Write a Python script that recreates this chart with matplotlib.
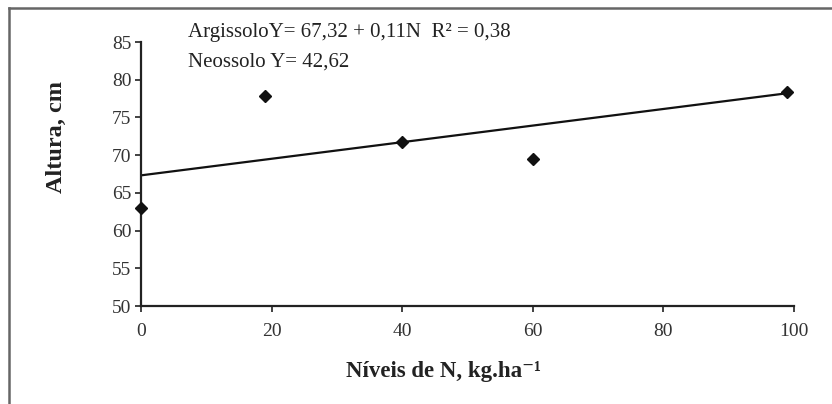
import matplotlib
matplotlib.use('Agg')
import matplotlib.pyplot as plt
from matplotlib.lines import Line2D

# niveis de N (kg/ha) e altura (cm)
doses = [0, 19, 40, 60, 99]
altura = [63.0, 77.8, 71.7, 69.5, 78.4]

# reta ajustada Argissolo
a, b = 67.32, 0.11
reta_x = [0, 99]
reta_y = [a + b * x for x in reta_x]

xticks = [0, 20, 40, 60, 80, 100]
yticks = [50, 55, 60, 65, 70, 75, 80, 85]

plt.rcParams['font.family'] = ['Liberation Serif', 'DejaVu Serif']

fig = plt.figure(figsize=(8.32, 4.04), dpi=100)
ax = fig.add_axes([141 / 832, 1 - 306 / 404, (794 - 141) / 832, (306 - 42) / 404])

ax.plot(reta_x, reta_y, color='#111111', lw=1.6, zorder=2)
ax.plot(doses, altura, 'D', color='#111111', ms=6, zorder=3, clip_on=False)

ax.set_xlim(0, 100)
ax.set_ylim(50, 85)
ax.set_xticks(xticks)
ax.set_yticks(yticks)
ax.tick_params(labelsize=14, colors='#333333', length=4, width=1.3)
ax.tick_params(axis='x', pad=8)
ax.tick_params(axis='y', pad=3)
for s in ['top', 'right']:
    ax.spines[s].set_visible(False)
for s in ['left', 'bottom']:
    ax.spines[s].set_linewidth(1.6)
    ax.spines[s].set_color('#222222')

# rotulos dos eixos
fig.text(443 / 832, 1 - 377 / 404, 'Níveis de N, kg.ha⁻¹', fontsize=16.5, fontweight='bold',
         ha='center', va='baseline', color='#222222')
fig.text(56 / 832, 1 - 137 / 404, 'Altura, cm', fontsize=17.5, fontweight='bold',
         ha='center', va='center', rotation=90, color='#222222')

fig.text(188 / 832, 1 - 37 / 404, 'ArgissoloY= 67,32 + 0,11N  R² = 0,38', fontsize=15,
         va='baseline', color='#222222')
fig.text(188 / 832, 1 - 67 / 404, 'Neossolo Y= 42,62', fontsize=15,
         va='baseline', color='#222222')

# moldura
fig.add_artist(Line2D([9 / 832, 9 / 832], [0, 1 - 8 / 404], transform=fig.transFigure,
                      color='#666666', lw=1.8))
fig.add_artist(Line2D([9 / 832, 1], [1 - 8 / 404, 1 - 8 / 404], transform=fig.transFigure,
                      color='#666666', lw=1.8))

fig.savefig('out.png', dpi=100)
